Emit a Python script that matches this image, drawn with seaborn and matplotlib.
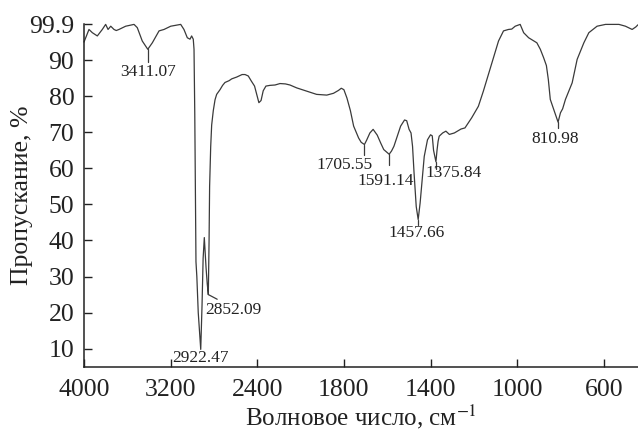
import numpy as np
import matplotlib
matplotlib.use("Agg")
import matplotlib.pyplot as plt
import seaborn as sns
import pandas as pd

# ---- data ----
wavenumber = [4000, 3984, 3954, 3923, 3877, 3831, 3800, 3778, 3753, 3723, 3702, 3677,
              3615, 3538, 3508, 3462, 3411, 3369, 3307, 3261, 3199, 3107, 3077, 3046,
              3021, 3006, 2991, 2984, 2977, 2970, 2966, 2958, 2945, 2922, 2910, 2900,
              2889, 2880, 2873, 2862, 2852, 2845, 2840, 2830, 2821, 2806, 2790, 2775,
              2744, 2720, 2698, 2660, 2636, 2590, 2540, 2513, 2483, 2455, 2425, 2405,
              2385, 2365, 2345, 2320, 2282, 2236, 2190, 2140, 2098, 2036, 1972, 1926,
              1879, 1848, 1825, 1812, 1800, 1786, 1770, 1755, 1732, 1720, 1705, 1695,
              1680, 1665, 1646, 1630, 1616, 1591, 1580, 1569, 1550, 1538, 1520, 1510,
              1499, 1490, 1483, 1476, 1466, 1457, 1448, 1437, 1429, 1414, 1400, 1392,
              1386, 1375, 1370, 1365, 1360, 1344, 1329, 1313, 1290, 1259, 1241, 1210,
              1179, 1156, 1133, 1109, 1086, 1063, 1040, 1025, 1009, 986, 970, 947,
              909, 893, 878, 865, 856, 847, 831, 811, 800, 790, 777, 746, 723, 692,
              669, 631, 592, 530, 500, 469, 452, 442]
transmittance = [95.0, 96.2, 98.5, 97.6, 96.7, 98.5, 99.9, 98.5, 99.4, 98.5, 98.2, 98.5,
                 99.4, 99.9, 99.0, 95.3, 93.0, 94.8, 98.1, 98.5, 99.4, 99.9, 98.5, 96.2,
                 95.8, 96.7, 95.8, 93.0, 75.0, 50.0, 34.1, 30.0, 20.0, 9.8, 22.0, 35.0,
                 40.8, 36.0, 32.5, 28.0, 25.0, 40.0, 55.0, 66.0, 72.0, 76.0, 79.0, 80.5,
                 81.8, 83.0, 83.8, 84.3, 84.8, 85.3, 86.0, 86.0, 85.6, 84.2, 82.8, 80.5,
                 78.2, 78.8, 81.5, 82.8, 83.0, 83.1, 83.5, 83.4, 83.1, 82.3, 81.4, 80.5,
                 80.3, 80.8, 81.6, 82.2, 81.8, 79.5, 76.0, 71.7, 68.4, 67.2, 66.6, 67.8,
                 69.8, 70.8, 69.2, 67.0, 65.2, 63.9, 64.8, 66.1, 69.5, 71.7, 73.4, 73.2,
                 70.8, 69.8, 66.1, 58.7, 49.4, 45.8, 50.4, 57.8, 63.3, 67.9, 69.3, 69.0,
                 65.0, 61.8, 65.0, 67.5, 68.9, 69.8, 70.3, 69.4, 69.8, 70.9, 71.2, 74.0,
                 77.2, 81.4, 86.0, 90.7, 95.3, 98.1, 98.5, 98.6, 99.4, 99.9, 97.6, 96.2,
                 94.8, 93.0, 90.7, 88.5, 84.6, 79.1, 76.3, 72.8, 75.4, 76.5, 79.1, 83.7,
                 90.2, 94.8, 97.6, 99.4, 99.9, 99.9, 99.4, 98.5, 99.2, 99.8]

peak_labels = ["3411.07", "2922.47", "2852.09", "1705.55", "1591.14", "1457.66", "1375.84", "810.98"]
peak_w = [3411, 2922, 2852, 1705, 1591, 1457, 1375, 811]
peak_T = [93.0, 9.8, 25.0, 66.6, 63.9, 45.8, 61.8, 72.8]

x_ticks = [4000, 3200, 2400, 1800, 1400, 1000, 600]
y_ticks = [10, 20, 30, 40, 50, 60, 70, 80, 90, 99.9]
y_ticklabels = ["10", "20", "30", "40", "50", "60", "70", "80", "90", "99.9"]

# ---- styling / layout ----
sns.set_style("ticks")
plt.rcParams['font.family'] = ['Liberation Serif', 'DejaVu Serif']
plt.rcParams['mathtext.fontset'] = 'stix'

fig = plt.figure(figsize=(6.38, 4.30), dpi=100)
ax = fig.add_axes([84 / 638, (430 - 366.7) / 430, 1 - 84 / 638, (366.7 - 24.4) / 430])

def fwd(w):
    w = np.asarray(w, dtype=float)
    return np.where(w >= 2000, w, 2 * w - 2000)

def inv(x):
    x = np.asarray(x, dtype=float)
    return np.where(x >= 2000, x, (x + 2000) / 2)

ax.set_xscale('function', functions=(fwd, inv))

df = pd.DataFrame({"w": wavenumber, "T": transmittance})
sns.lineplot(data=df, x="w", y="T", ax=ax, color="#3a3a3a", linewidth=0.9,
             sort=False, clip_on=False)

ax.set_xlim(4000, 442)
ax.set_ylim(5, 99.9)
ax.set_xticks(x_ticks)
ax.set_xticklabels([str(t) for t in x_ticks])
ax.set_yticks(y_ticks)
ax.set_yticklabels(y_ticklabels)
ax.minorticks_off()

ax.tick_params(axis='both', direction='in', length=6, width=1.0, colors="#222222",
               labelsize=18.5)
ax.tick_params(axis='x', pad=8.5)
ax.tick_params(axis='y', pad=7)

for s in ["top", "right"]:
    ax.spines[s].set_visible(False)
for s in ["left", "bottom"]:
    ax.spines[s].set_linewidth(1.1)
    ax.spines[s].set_color("#222222")

ax.set_xlabel("Волновое число, см$^{-1}$", fontsize=18, color="#222222")
ax.set_ylabel("Пропускание, %", fontsize=18.5, color="#222222")
ax.xaxis.set_label_coords(0.5, (366.7 - 425) / (366.7 - 24.4))
ax.yaxis.set_label_coords((22 - 84) / 554, 0.5)
ax.xaxis.label.set_va('baseline')
ax.yaxis.label.set_va('center')

# ---- peak annotations (tick + label offsets are layout only) ----
ann = {
    "3411.07": dict(tick=-3.4, tx=3411, ty=86.6, ha='center'),
    "2922.47": dict(tick=0, tx=2925, ty=7.5, ha='center'),
    "2852.09": dict(tick=None, tx=2880, ty=20.8, ha='left'),
    "1705.55": dict(tick=-2.8, tx=1797, ty=60.8, ha='center'),
    "1591.14": dict(tick=-3.0, tx=1607, ty=56.4, ha='center'),
    "1457.66": dict(tick=-1.5, tx=1466, ty=42.1, ha='center'),
    "1375.84": dict(tick=-2.0, tx=1292, ty=58.6, ha='center'),
    "810.98": dict(tick=-1.6, tx=824, ty=68.0, ha='center'),
}
for lab, w, t in zip(peak_labels, peak_w, peak_T):
    a = ann[lab]
    if a["tick"]:
        ax.plot([w, w], [t, t + a["tick"]], color="#3a3a3a", lw=0.9)
    if lab == "2852.09":
        ax.plot([w, 2770], [t, 23.7], color="#3a3a3a", lw=0.9)
    ax.text(a["tx"], a["ty"], lab, ha=a["ha"], va='center', fontsize=12.5,
            color="#222222")

fig.savefig("out.png", dpi=100)
